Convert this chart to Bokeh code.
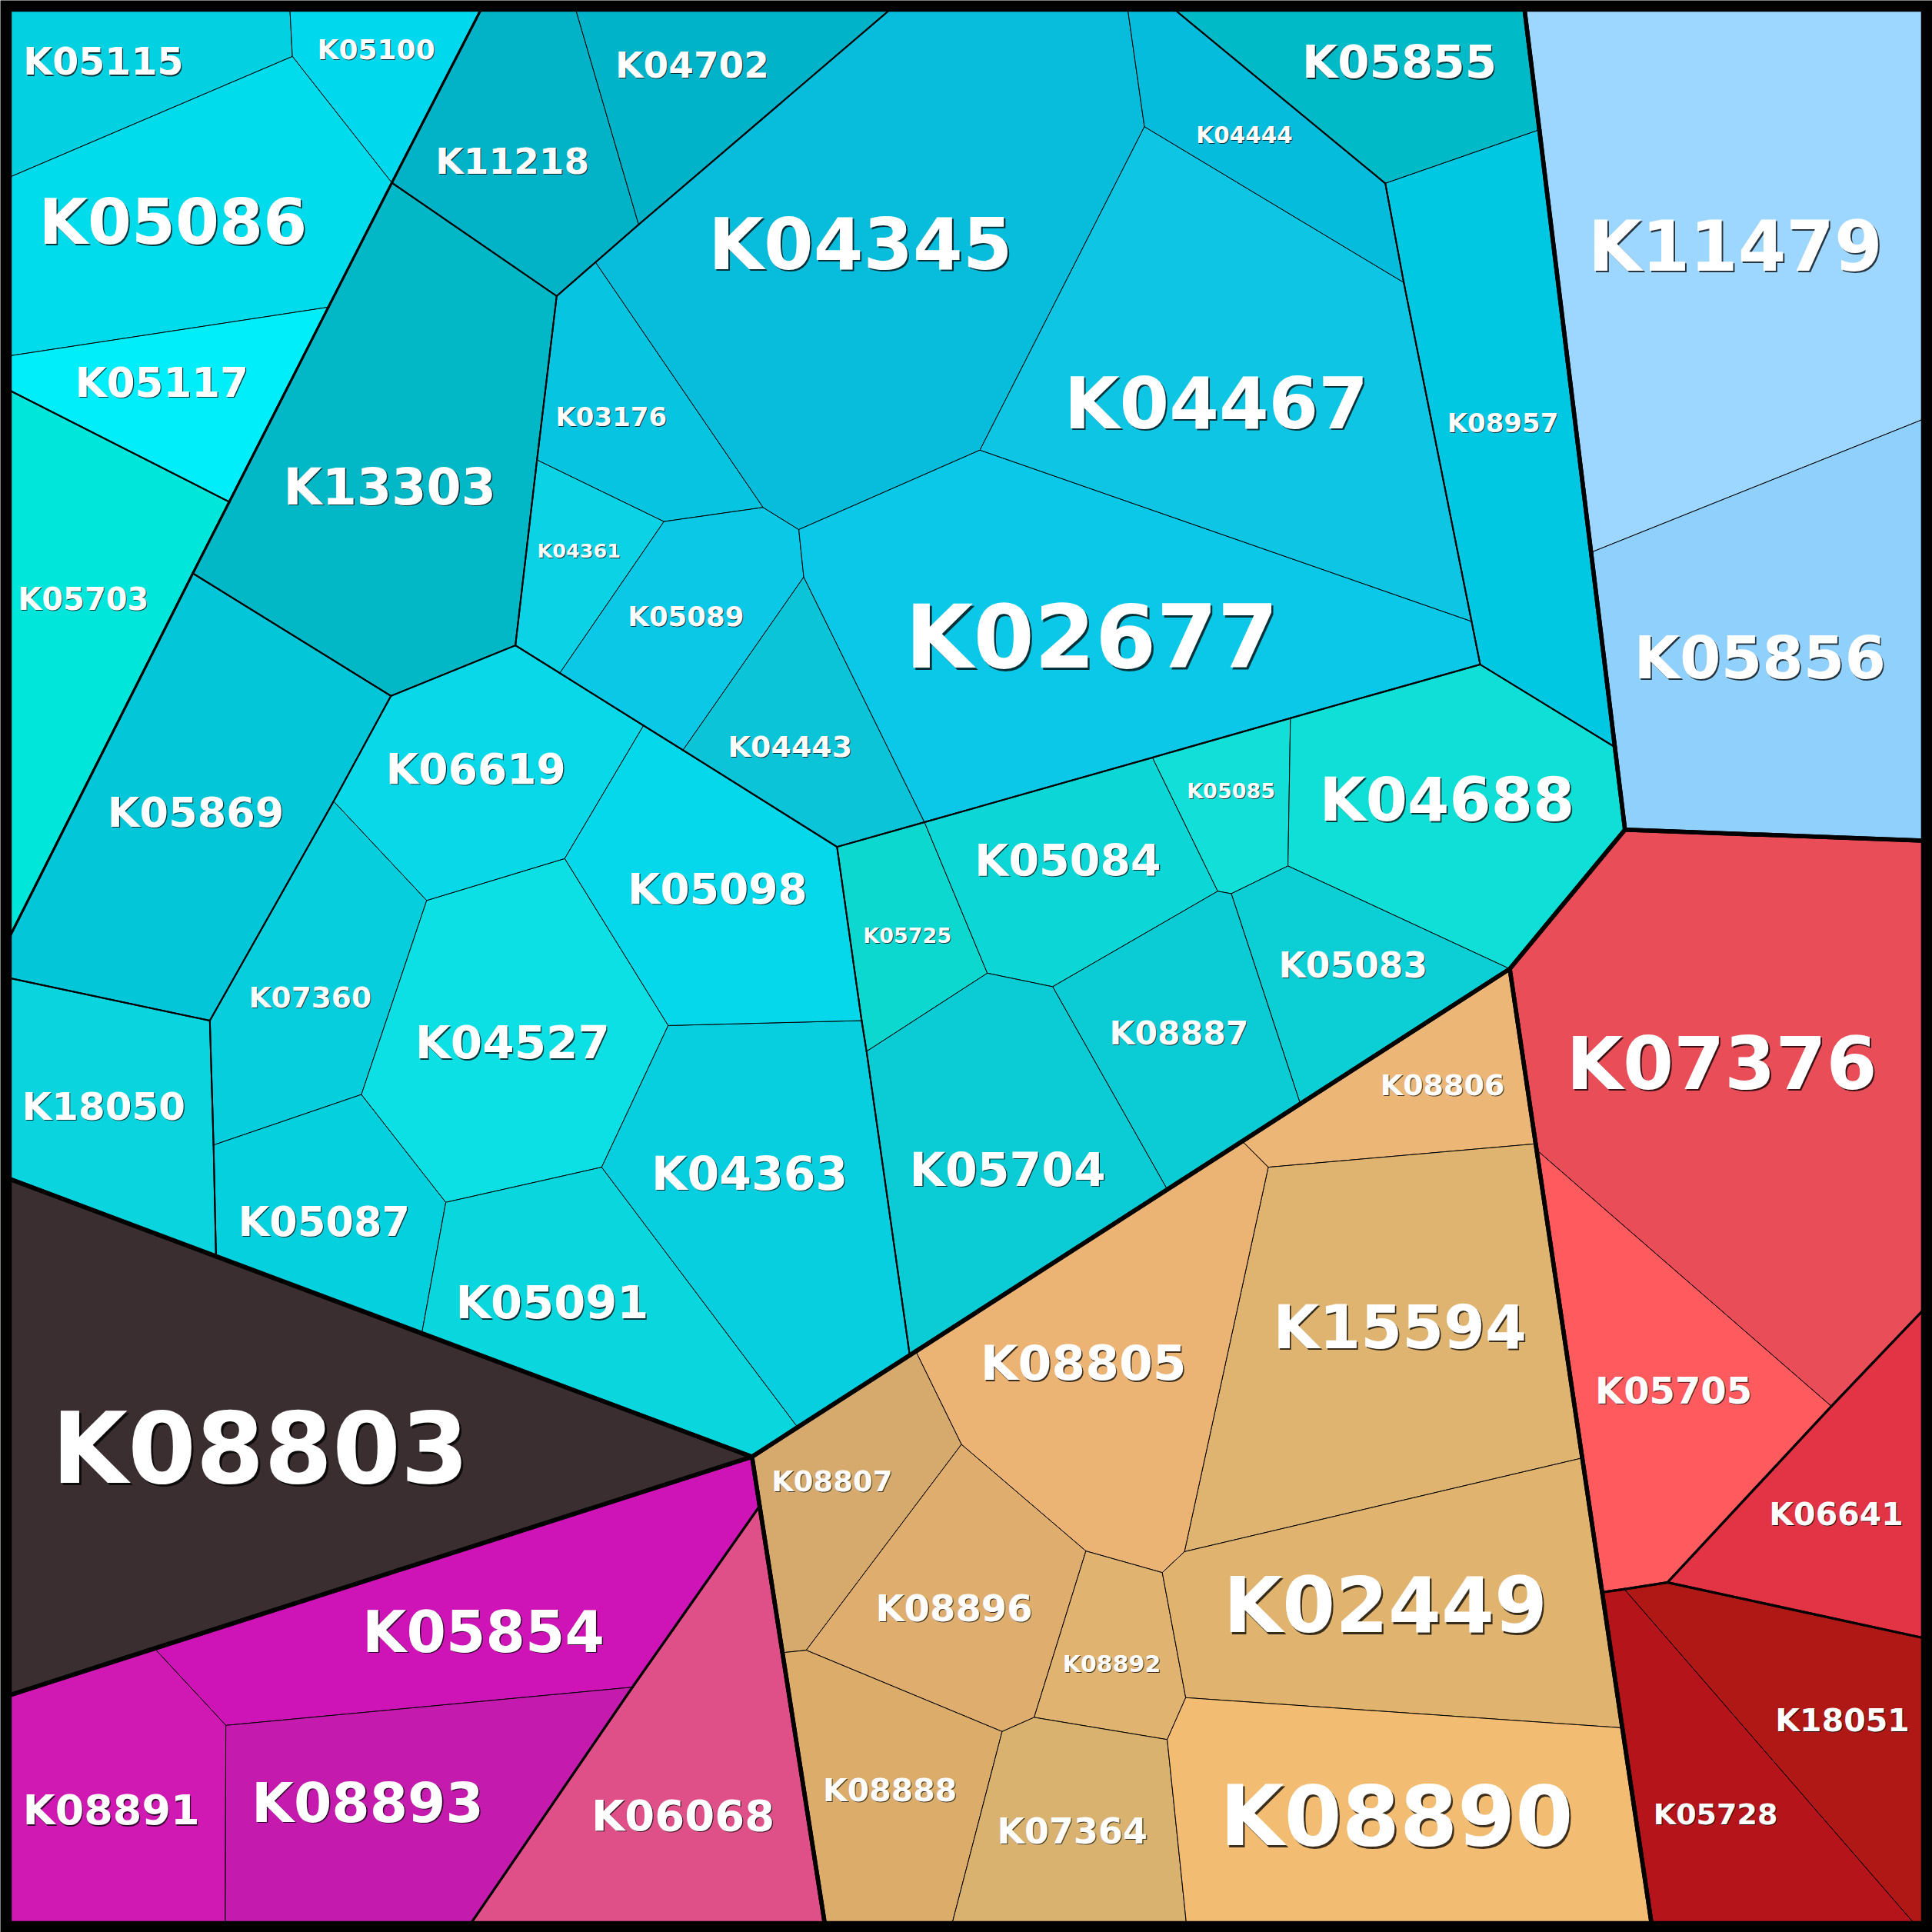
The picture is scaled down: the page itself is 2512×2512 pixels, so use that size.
from collections import Counter
from bokeh.plotting import figure
from bokeh.models import Range1d, ColumnDataSource
from bokeh.embed import file_html
from bokeh.resources import INLINE
from bokeh.core.properties import value

SCALE = 2512 / 1568
W = H = 2512
L, T, R, B = 7.5, 7.5, 1560.5, 1560.5

# ---- vertices of the Voronoi treemap (reference units) ----
V = dict(
    t0=(L, T), t1=(235, T), t2=(390, T), t3=(467, T), t4=(722, T), t5=(915, T), t6=(953, T), t7=(1237, T), t8=(R, T),
    l1=(L, 143.5), l2=(L, 288.5), l3=(L, 316.5), l4=(L, 760), l5=(L, 793.5), l6=(L, 956.5), l7=(L, 1375.5), l8=(L, B),
    b1=(182.5, B), b2=(382, B), b3=(669, B), b4=(772.5, B), b5=(962.5, B), b6=(1340, B), b7=(1553, B), b8=(R, B),
    r1=(R, 340), r2=(R, 682), r3=(R, 1063), r4=(R, 1329),
    a1=(237, 45.5), a2=(317.7, 148), a3=(266.2, 249), a4=(185.8, 407), a5=(156.2, 465),
    a6=(451.5, 240), a7=(483, 212.5), a8=(518, 182), a9=(435.5, 373), a10=(418, 523.5),
    a11=(317, 564.5), a12=(538.5, 423), a13=(619, 411.5), a14=(648, 429.5), a15=(652, 468),
    a16=(454, 546), a17=(554, 608.5), a18=(522, 588.5), a19=(679, 687), a20=(750, 667),
    a21=(935, 614.5), a22=(1047, 582.5), a23=(1201, 539), a24=(1194, 504), a25=(1139, 229),
    a26=(1124, 148.5), a27=(1249.1, 105), a28=(928.5, 102.5), a29=(795, 365), a30=(1310.3, 606),
    a31=(1318.5, 673), a32=(1225, 786), a33=(1045, 702.5), a34=(999, 725), a35=(988, 723),
    a36=(801, 789.5), a37=(854, 800.5), a38=(703, 853), a39=(699, 828), a40=(1055, 895.5),
    a41=(947, 965), a42=(738, 1099.5), a43=(647, 1158), a44=(610, 1182), a45=(542, 832),
    a46=(458, 696.5), a47=(346, 730.5), a48=(270.5, 650), a49=(170, 828), a50=(293, 888),
    a51=(173, 929), a52=(175, 1019.5), a53=(361.5, 975.5), a54=(342, 1082), a55=(488, 947),
    a56=(1291, 448), a57=(1246.8, 933), a58=(1486, 1141), a59=(1353, 1284), a60=(1300, 1292),
    a61=(1318, 1289.5),
    o1=(1008, 926), o2=(1029, 947), o3=(1246, 928), o4=(961, 1259), o5=(1283.8, 1183),
    o6=(743, 1096.5), o7=(780, 1172), o8=(881, 1258.5), o9=(943, 1276), o10=(654, 1339),
    o11=(634.7, 1341), o12=(813, 1405), o13=(839, 1393.5), o14=(962, 1377.5), o15=(947, 1411.5),
    o16=(1316.3, 1402),
    m1=(125, 1337.5), m2=(183, 1400), m3=(513, 1369), m4=(616.2, 1222),
)

names = ["K05115", "K05100", "K05086", "K05117", "K05703", "K11218", "K04702", "K13303", "K05869", "K18050",
         "K07360", "K05087", "K04527", "K06619", "K05091", "K04363", "K05098",
         "K03176", "K04361", "K05089", "K04443", "K04345", "K02677", "K04467", "K04444",
         "K05855", "K08957",
         "K05725", "K05084", "K05085", "K04688", "K05083", "K08887", "K05704",
         "K11479", "K05856",
         "K07376", "K05705", "K06641", "K18051", "K05728",
         "K08806", "K15594", "K08805", "K08807", "K08896", "K08892", "K02449", "K08888", "K07364", "K08890",
         "K08803",
         "K05854", "K08891", "K08893", "K06068"]

groups = ["cyan/L/L1"] * 4 + ["cyan/L/L2", "cyan/R/R1", "cyan/R/R1", "cyan/R/R2", "cyan/R/R3", "cyan/R/R4"] \
    + ["cyan/R/R5"] * 7 + ["cyan/R/R6"] * 8 + ["cyan/R/R7"] * 2 + ["cyan/R/R8"] * 7 \
    + ["blue/x/x"] * 2 \
    + ["red/a/x", "red/a/x", "red/b/x", "red/c/x", "red/c/x"] \
    + ["orange/x/x"] * 10 \
    + ["black/x/x"] \
    + ["mag/a/x", "mag/a/x", "mag/a/x", "mag/b/x"]

colors = ["#03d0e0", "#00d8ee", "#00dcec", "#00eefa", "#00e6da", "#02b2c6", "#00b3c8", "#03b8c6", "#03c6d8", "#0ad4dd",
          "#06cedd", "#05d0de", "#0ce0e4", "#08d8e8", "#0ad6de", "#08cfe0", "#05d8ea",
          "#07c4e0", "#0bd2e4", "#0ac8e6", "#0cc4d8", "#08bcdc", "#0bc8e8", "#0ec5e4", "#06bcdc",
          "#00bac8", "#00c8e2",
          "#0dd8d0", "#0dd6d6", "#12e0d8", "#10dfd8", "#0ccfd6", "#0bccd4", "#0bcbd4",
          "#9dd6ff", "#90d0fc",
          "#e94e58", "#ff5a5e", "#e23444", "#b01816", "#b4141a",
          "#ebb676", "#deb470", "#ebb474", "#d6a96c", "#dfae6e", "#e0b470", "#e0b36e", "#dcac6a", "#d9b270", "#f2bd72",
          "#3a2e30",
          "#ce14b6", "#d018b2", "#c51aae", "#e05088"]

polys = [
    ["t0", "t1", "a1", "l1"], ["t1", "t2", "a2", "a1"], ["l1", "a1", "a2", "a3", "l2"], ["l2", "a3", "a4", "l3"],
    ["l3", "a4", "a5", "l4"], ["t2", "t3", "a8", "a7", "a6", "a2"], ["t3", "t4", "a8"],
    ["a2", "a6", "a9", "a10", "a11", "a5", "a4", "a3"], ["a5", "a11", "a48", "a49", "l5", "l4"],
    ["l5", "a49", "a51", "a52", "l6"],
    ["a49", "a48", "a47", "a50", "a51"], ["a51", "a50", "a53", "a54", "a52"],
    ["a50", "a47", "a46", "a45", "a55", "a53"], ["a48", "a11", "a10", "a16", "a18", "a46", "a47"],
    ["a53", "a55", "a43", "a44", "a54"], ["a45", "a39", "a38", "a42", "a43", "a55"],
    ["a46", "a18", "a17", "a19", "a39", "a45"],
    ["a6", "a7", "a13", "a12", "a9"], ["a9", "a12", "a16", "a10"],
    ["a16", "a12", "a13", "a14", "a15", "a17", "a18"], ["a17", "a15", "a20", "a19"],
    ["a8", "t4", "t5", "a28", "a29", "a14", "a13", "a7"],
    ["a14", "a29", "a24", "a23", "a22", "a21", "a20", "a15"], ["a28", "a25", "a24", "a29"],
    ["t5", "t6", "a26", "a25", "a28"],
    ["t6", "t7", "a27", "a26"], ["a26", "a27", "a30", "a23", "a24", "a25"],
    ["a19", "a20", "a36", "a38", "a39"], ["a20", "a21", "a35", "a37", "a36"], ["a21", "a22", "a33", "a34", "a35"],
    ["a22", "a23", "a30", "a31", "a32", "a33"], ["a34", "a33", "a32", "a40"], ["a35", "a34", "a40", "a41", "a37"],
    ["a36", "a37", "a41", "a42", "a38"],
    ["t7", "t8", "r1", "a56"], ["a56", "r1", "r2", "a31"],
    ["a31", "r2", "r3", "a58", "a57", "a32"], ["a57", "a58", "a59", "a61", "a60"], ["a58", "r3", "r4", "a59"],
    ["a59", "r4", "b8", "b7", "a61"], ["a60", "a61", "b7", "b6"],
    ["o1", "a32", "o3", "o2"], ["o2", "o3", "o5", "o4"], ["o6", "o1", "o2", "o4", "o9", "o8", "o7"],
    ["a44", "o6", "o7", "o10", "o11"], ["o10", "o7", "o8", "o13", "o12"], ["o13", "o8", "o9", "o14", "o15"],
    ["o9", "o4", "o5", "o16", "o14"], ["o11", "o10", "o12", "b4", "b3"], ["o12", "o13", "o15", "b5", "b4"],
    ["o15", "o14", "o16", "b6", "b5"],
    ["l6", "a44", "l7"],
    ["m1", "a44", "m4", "m3", "m2"], ["l7", "m1", "m2", "b1", "l8"], ["m2", "m3", "b2", "b1"], ["m4", "b3", "b2", "m3"],
]

label_x = [83.6, 305, 140, 131, 67.3, 415.6, 561.5, 316, 158.6, 83.8,
           251.4, 262.7, 415.6, 385.9, 447.8, 608, 582,
           495.8, 469.5, 556.4, 641, 698, 885.8, 986.7, 1009.7,
           1135.5, 1219.4,
           736.1, 866.4, 998.8, 1174, 1097.9, 956.6, 817.5,
           1408, 1428,
           1397, 1358, 1490, 1495, 1392,
           1170.4, 1135.8, 879, 675, 774, 902, 1124, 722, 870, 1133,
           211,
           392, 90, 298, 554]
label_y = [50.2, 39.7, 179.8, 310, 486, 130.5, 52.7, 395, 658.9, 898.1,
           809.3, 991.2, 846, 623.7, 1056.9, 952, 721,
           337.8, 446.5, 500, 606, 198, 517.1, 327.3, 109.5,
           50.2, 342.8,
           759.3, 697.9, 641.8, 649, 783.5, 838.5, 949.1,
           200, 534,
           863, 1128, 1229, 1396, 1472,
           880.3, 1077.3, 1106.4, 1202, 1305, 1350, 1303, 1453, 1486, 1474,
           1175.6,
           1324, 1469, 1463, 1473]
label_px = [49, 36, 82, 53, 40, 47, 47, 65, 54, 50,
            37.5, 52.5, 59.5, 55, 59, 60, 55,
            34, 25.5, 35.5, 38, 93, 114, 93, 29.5,
            59.5, 34,
            27, 57, 27, 78, 45.5, 42.5, 60,
            90, 77,
            95, 48, 41, 41, 38,
            38, 77.5, 63, 37, 48, 30, 99, 41, 46, 108,
            127.5,
            74, 54, 71, 56]

line_widths = {1: 5.5, 2: 3.0, 3: 2.0}

p = figure(width=W, height=H,
           x_range=Range1d(0, W / SCALE),
           y_range=Range1d(H / SCALE, 0),
           output_backend="svg", toolbar_location=None, min_border=0,
           x_axis_location=None, y_axis_location=None,
           background_fill_color="black", border_fill_color="black", outline_line_color=None)
p.grid.visible = False

cell_src = ColumnDataSource(dict(
    xs=[[V[v][0] for v in poly] for poly in polys],
    ys=[[V[v][1] for v in poly] for poly in polys],
    color=colors,
))
p.patches("xs", "ys", source=cell_src, fill_color="color", line_color="black", line_width=1.0)


def outline(idx):
    cnt = Counter()
    for i in idx:
        vs = polys[i]
        for a, b in zip(vs, vs[1:] + vs[:1]):
            cnt[tuple(sorted((a, b)))] += 1
    return [e for e, c in cnt.items() if c == 1]


for depth in (3, 2, 1):
    keys = {}
    for i, g in enumerate(groups):
        k = "/".join(g.split("/")[:depth])
        keys.setdefault(k, []).append(i)
    if depth > 1:
        parents = Counter("/".join(k.split("/")[:depth - 1]) for k in keys)
        keys = {k: v for k, v in keys.items() if parents["/".join(k.split("/")[:depth - 1])] > 1}
    exs, eys = [], []
    for k, idx in keys.items():
        for a, b in outline(idx):
            exs.append([V[a][0], V[b][0]])
            eys.append([V[a][1], V[b][1]])
    if exs:
        p.multi_line(exs, eys, line_color="black", line_width=line_widths[depth],
                     line_cap="round", line_join="round")

off = [max(1.0, s / 45.0) for s in label_px]
txt_src = ColumnDataSource(dict(
    x=label_x, y=label_y, text=names,
    size=["%.1fpx" % s for s in label_px], off=off,
))
p.text("x", "y", text="text", source=txt_src, text_font=value("DejaVu Sans"), text_font_style="bold",
       text_font_size="size", text_align="center", text_baseline="middle",
       text_color="black", text_alpha=0.75, x_offset="off", y_offset="off")
p.text("x", "y", text="text", source=txt_src, text_font=value("DejaVu Sans"), text_font_style="bold",
       text_font_size="size", text_align="center", text_baseline="middle", text_color="white")

open("out.html", "w").write(file_html(p, INLINE))
